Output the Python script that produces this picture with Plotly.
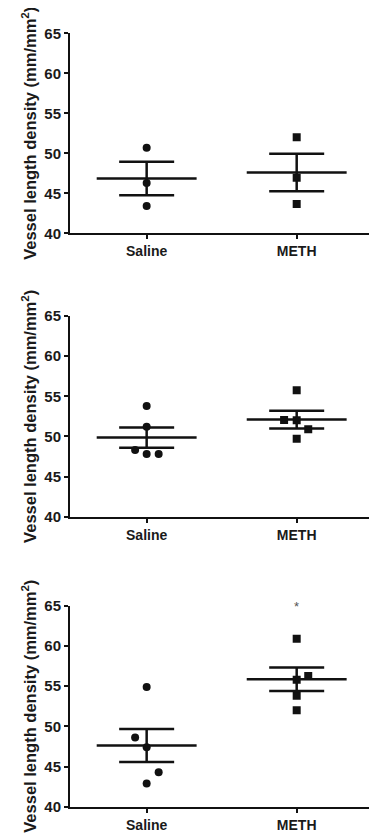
import plotly.graph_objects as go

# ---------------- data ----------------
categories = ["Saline", "METH"]
y_ticks = [40, 45, 50, 55, 60, 65]

# Panel 1
p1_saline = [50.7, 46.3, 43.4]
p1_meth = [52.0, 46.95, 43.65]
p1_means = [46.85, 47.6]
p1_sems = [2.1, 2.35]

# Panel 2
p2_saline = [53.8, 51.2, 48.3, 47.8, 47.8]
p2_meth = [55.75, 52.05, 52.0, 50.9, 49.7]
p2_means = [49.85, 52.1]
p2_sems = [1.25, 1.1]

# Panel 3
p3_saline = [54.9, 48.6, 47.4, 44.3, 42.9]
p3_meth = [60.9, 56.25, 55.8, 53.8, 52.0]
p3_means = [47.6, 55.85]
p3_sems = [2.05, 1.45]

significance = ["", "", "*"]  # marker above METH in panel 3

# horizontal jitter of overlapping points (category units)
p1_saline_jit = [0, 0, 0]
p1_meth_jit = [0, 0, 0]
p2_saline_jit = [0, 0, -0.077, 0, 0.08]
p2_meth_jit = [0, -0.084, 0, 0.077, 0]
p3_saline_jit = [0, -0.077, 0, 0.08, 0]
p3_meth_jit = [0, 0.077, 0, 0, 0]

panels = [
    (p1_saline, p1_meth, p1_means, p1_sems, p1_saline_jit, p1_meth_jit),
    (p2_saline, p2_meth, p2_means, p2_sems, p2_saline_jit, p2_meth_jit),
    (p3_saline, p3_meth, p3_means, p3_sems, p3_saline_jit, p3_meth_jit),
]

# ---------------- style ----------------
WIN_W, WIN_H = 377, 838
OFF = 8                      # default page (body) margin
W, H = WIN_W - OFF, WIN_H - OFF
INK = "#111111"
TXT = "#1a1a1a"
FONT = "Liberation Sans, Arial, sans-serif"
# window pixel rows of the 65 and 40 ticks for each panel
panel_px = [(33.3, 233.3), (316.0, 516.7), (605.7, 806.7)]
x_px = (70, 372)
x_range = [-0.511, 1.502]
mean_half = 0.333
cap_px = 27.5

fig = go.Figure()

for i, (sal, meth, means, sems, sj, mj) in enumerate(panels):
    xa = "x" if i == 0 else f"x{i+1}"
    ya = "y" if i == 0 else f"y{i+1}"
    # raw points
    fig.add_trace(go.Scatter(
        x=[0 + j for j in sj], y=sal, mode="markers", xaxis=xa, yaxis=ya,
        marker=dict(symbol="circle", size=8, color=INK), showlegend=False))
    fig.add_trace(go.Scatter(
        x=[1 + j for j in mj], y=meth, mode="markers", xaxis=xa, yaxis=ya,
        marker=dict(symbol="square", size=8, color=INK), showlegend=False))
    # mean lines
    mx, my = [], []
    for k, m in enumerate(means):
        mx += [k - mean_half, k + mean_half, None]
        my += [m, m, None]
    fig.add_trace(go.Scatter(
        x=mx, y=my, mode="lines", xaxis=xa, yaxis=ya,
        line=dict(color=INK, width=2.5), showlegend=False))
    # SEM error bars
    fig.add_trace(go.Scatter(
        x=[0, 1], y=means, mode="markers", xaxis=xa, yaxis=ya,
        marker=dict(size=1, color="rgba(0,0,0,0)"),
        error_y=dict(type="data", array=sems, visible=True, color=INK,
                     thickness=2.5, width=cap_px),
        showlegend=False))
    if significance[i]:
        fig.add_annotation(x=1, y=65, xref=xa, yref=ya, text=significance[i],
                           showarrow=False, yshift=-1,
                           font=dict(family=FONT, size=13, color="#555555"))

    top, bot = panel_px[i]
    top -= OFF
    bot -= OFF
    axis_common = dict(showgrid=False, zeroline=False, showline=True,
                       linecolor=INK, linewidth=2, ticks="outside",
                       ticklen=4, tickwidth=2, tickcolor=INK, automargin=False)
    xkey = "xaxis" if i == 0 else f"xaxis{i+1}"
    ykey = "yaxis" if i == 0 else f"yaxis{i+1}"
    fig.update_layout(**{
        xkey: dict(domain=[(x_px[0] - OFF) / W, min(1, (x_px[1] - OFF) / W)],
                   range=x_range,
                   anchor=ya, tickvals=[0, 1], ticktext=categories,
                   tickfont=dict(family=FONT, size=14, color=TXT, weight="bold"),
                   **axis_common),
        ykey: dict(domain=[(H - bot) / H, (H - top) / H], range=[40, 65],
                   anchor=xa, tickvals=y_ticks,
                   tickfont=dict(family=FONT, size=15, color=TXT, weight="bold"),
                   title=dict(text="Vessel length density (mm/mm<sup>2</sup>)",
                              font=dict(family=FONT, size=16.5, color=TXT, weight="bold"),
                              standoff=4),
                   **axis_common),
    })

fig.update_layout(
    width=W, height=H,
    margin=dict(l=0, r=0, t=0, b=0),
    paper_bgcolor="white", plot_bgcolor="white",
    showlegend=False,
)

fig.write_html("out.html")
